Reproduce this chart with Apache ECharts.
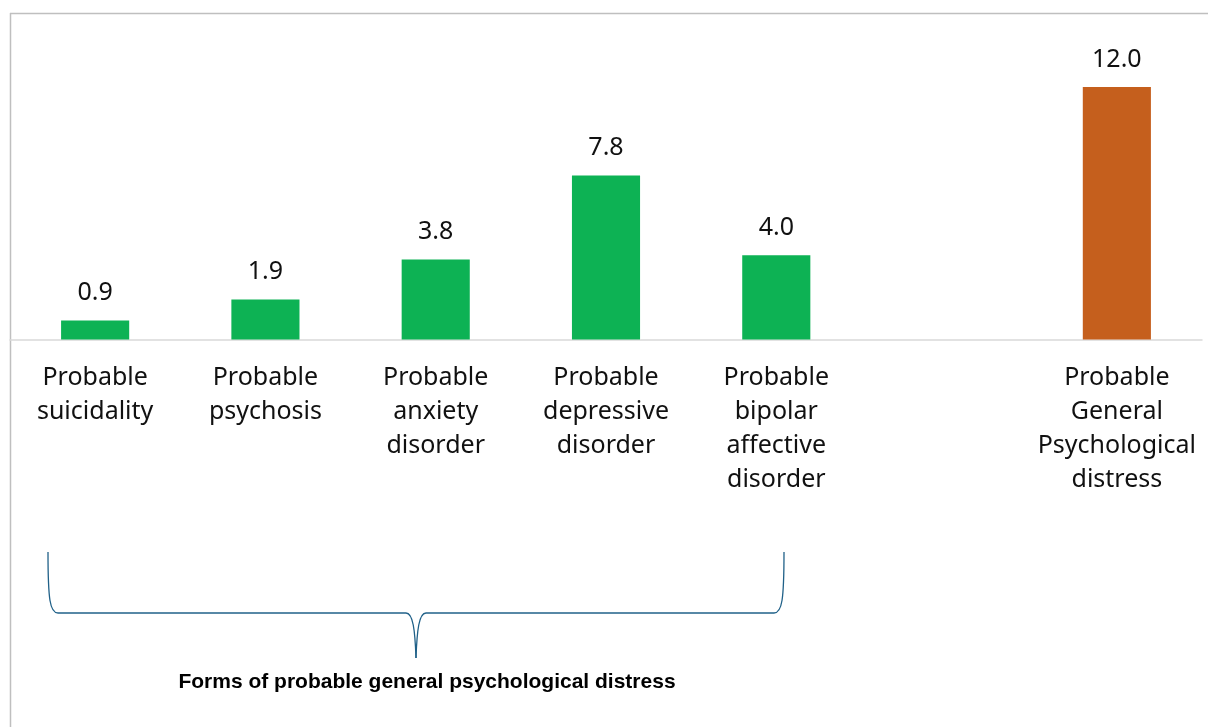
<!DOCTYPE html>
<html><head><meta charset="utf-8">
<script src="https://cdn.jsdelivr.net/npm/echarts@6/dist/echarts.min.js"></script>
<style>html,body{margin:0;padding:0;background:#fff}#c{width:1208px;height:727px}</style>
</head><body><div id="c"></div>
<script>
const categories = ['Probable\nsuicidality','Probable\npsychosis','Probable\nanxiety\ndisorder','Probable\ndepressive\ndisorder','Probable\nbipolar\naffective\ndisorder','','Probable\nGeneral\nPsychological\ndistress'];
const values = [0.9, 1.9, 3.8, 7.8, 4.0, null, 12.0];
const barColors = ['#0db254','#0db254','#0db254','#0db254','#0db254','#0db254','#c55f1d'];
const braceLabel = 'Forms of probable general psychological distress';

const braceStyle = {stroke:'#1f6088', lineWidth:1.3, fill:null};
function bez(x1,y1,cx1,cy1,cx2,cy2,x2,y2){return {type:'bezierCurve', shape:{x1,y1,cpx1:cx1,cpy1:cy1,cpx2:cx2,cpy2:cy2,x2,y2}, style:braceStyle};}
function ln(x1,y1,x2,y2,st){return {type:'line', shape:{x1,y1,x2,y2}, style:st||braceStyle};}

const chart = echarts.init(document.getElementById('c'));
chart.setOption({
  animation:false,
  grid:{left:10, right:6, top:24, bottom:387.5},
  xAxis:{type:'category', data:categories,
    axisLine:{lineStyle:{color:'#d9d9d9', width:1.5}},
    axisTick:{show:false},
    axisLabel:{interval:0, color:'#111', fontFamily:'Noto Sans', fontSize:25, lineHeight:34, margin:21}},
  yAxis:{type:'value', min:0, max:15, show:false, splitLine:{show:false}},
  series:[{type:'bar', barWidth:'40%',
    data: values.map((v,i)=>({value:v, itemStyle:{color:barColors[i]}})),
    label:{show:true, position:'top', distance:15, color:'#111', fontFamily:'Noto Sans', fontSize:25,
      formatter:p=>p.value==null?'':p.value.toFixed(1)}}],
  graphic:[
    ln(10,13.5,1208,13.5,{stroke:'#bfbfbf', lineWidth:1.5}),
    ln(10.5,13,10.5,727,{stroke:'#bfbfbf', lineWidth:1.5}),
    bez(48,552, 48,600, 50,613, 58,613),
    ln(58,613,406,613),
    bez(406,613, 413,613, 415,630, 416,658),
    bez(416,658, 417,630, 419,613, 426,613),
    ln(426,613,774,613),
    bez(774,613, 782,613, 784,600, 784,552),
    {type:'text', x:427, y:682, style:{text:braceLabel, align:'center', verticalAlign:'middle',
      font:'bold 21px "Liberation Sans", Arial', fill:'#000'}}
  ]
});
</script></body></html>
